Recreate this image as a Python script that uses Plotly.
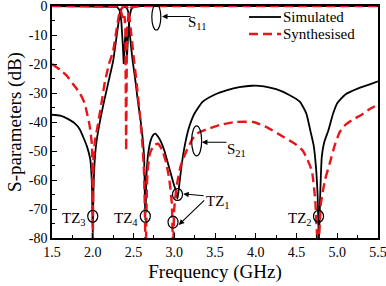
import plotly.graph_objects as go

# ---------------- data ----------------
sim_s21_f = [1.5, 1.6, 1.7, 1.78, 1.84, 1.88, 1.93, 1.97, 1.99, 2.0, 2.01, 2.03, 2.05, 2.09, 2.13,
             2.17, 2.21, 2.25, 2.29, 2.32, 2.345, 2.38, 2.41, 2.435, 2.45, 2.47, 2.49, 2.52, 2.55, 2.58,
             2.61, 2.63, 2.645, 2.66, 2.68, 2.71, 2.74, 2.77, 2.8, 2.84, 2.88, 2.92, 2.96, 3.0, 3.02,
             3.04, 3.06, 3.09, 3.13, 3.18, 3.25, 3.35, 3.5, 3.65, 3.8, 3.95, 4.1, 4.25, 4.4, 4.54,
             4.62, 4.67, 4.71, 4.74, 4.76, 4.775, 4.79, 4.81, 4.84, 4.89, 4.95, 5.0, 5.1, 5.25, 5.4, 5.5]
sim_s21_db = [-37.5, -37.8, -39.0, -40.5, -42.5, -45, -48.5, -53, -62, -78, -62, -51, -46, -39.5, -34,
              -29, -24, -19, -11, -5, -1.2, -0.4, -0.5, -2, -8, -14, -19, -25, -32, -38,
              -45, -52, -74, -58, -51, -46.5, -44.5, -44, -45, -47, -50, -54, -58, -62, -63.5,
              -66.5, -62, -55, -48, -42, -37, -33, -30.5, -29, -28, -27.5, -27.7, -28.7, -30.5, -33,
              -37, -43, -48, -56, -66, -82, -66, -52, -47, -43, -37, -33.5, -30.5, -28.5, -27, -26]

syn_s21_f = [1.5, 1.6, 1.68, 1.76, 1.84, 1.9, 1.93, 1.96, 1.99, 2.0, 2.01, 2.03, 2.05, 2.08, 2.11,
             2.15, 2.2, 2.25, 2.29, 2.32, 2.35, 2.38, 2.41, 2.43, 2.45, 2.47, 2.5, 2.54, 2.58, 2.61,
             2.63, 2.65, 2.67, 2.7, 2.75, 2.8, 2.85, 2.9, 2.94, 2.97, 2.985, 3.0, 3.03, 3.08, 3.15,
             3.22, 3.28, 3.4, 3.56, 3.75, 3.97, 4.15, 4.33, 4.48, 4.58, 4.65, 4.69, 4.73, 4.765, 4.8,
             4.85, 4.91, 4.97, 5.03, 5.1, 5.2, 5.3, 5.4, 5.5]
syn_s21_db = [-20, -22, -24, -27, -30, -33.5, -37, -41, -48, -85, -52, -46, -43, -38, -33,
              -26, -20, -15.5, -8.5, -3.5, -1.0, -0.2, -0.05, -0.8, -4, -9, -17, -27, -38, -48,
              -58, -85, -58, -51, -48, -47.5, -49.5, -54, -60, -68, -85, -70, -62, -55, -50,
              -46, -44, -42.5, -41, -40, -40, -42, -45, -47.5, -50, -54, -57, -67, -85, -68,
              -60, -54, -48, -43.5, -41, -39, -37.5, -35.5, -34]

sim_s11_f = [1.5, 2.2, 2.3, 2.33, 2.35, 2.37, 2.38, 2.39, 2.4, 2.41, 2.42, 2.43, 2.45, 2.47, 2.5, 2.6, 5.5]
sim_s11_db = [0, -0.05, -0.3, -1.5, -5, -14, -20, -14, -10, -11, -18, -12, -4, -1.2, -0.3, -0.05, 0]

syn_s11_f = [1.5, 2.3, 2.34, 2.36, 2.375, 2.39, 2.4, 2.41, 2.42, 2.44, 2.47, 2.55, 5.5]
syn_s11_db = [0, -0.1, -1, -3, -5, -3.5, -8, -50, -8, -2.5, -0.5, -0.05, 0]

x_ticks = [1.5, 2.0, 2.5, 3.0, 3.5, 4.0, 4.5, 5.0, 5.5]
y_ticks = [0, -10, -20, -30, -40, -50, -60, -70, -80]
legend_names = ["Simulated", "Synthesised"]

FONT = "Times New Roman"
BLACK = "#000000"
RED = "#e8161b"
DASH = "9px,5px"

fig = go.Figure()
fig.add_trace(go.Scatter(x=sim_s21_f, y=sim_s21_db, mode="lines", name=legend_names[0],
                         line=dict(color=BLACK, width=1.8, shape="spline", smoothing=0.5)))
fig.add_trace(go.Scatter(x=sim_s11_f, y=sim_s11_db, mode="lines", name=legend_names[0],
                         line=dict(color=BLACK, width=1.8)))
fig.add_trace(go.Scatter(x=syn_s21_f, y=syn_s21_db, mode="lines", name=legend_names[1],
                         line=dict(color=RED, width=2.4, dash=DASH, shape="spline", smoothing=0.5)))
fig.add_trace(go.Scatter(x=syn_s11_f, y=syn_s11_db, mode="lines", name=legend_names[1],
                         line=dict(color=RED, width=2.4, dash=DASH)))

# ellipses / circles marking features (pixel-sized, anchored in data coords)
marks = [  # (freq, dB, rx, ry)
    (2.0, -72.5, 5, 6),
    (2.645, -72.5, 5, 6),
    (3.04, -65.0, 5, 6),
    (2.985, -74.5, 5, 6),
    (4.77, -72.5, 5, 6),
    (2.78, -3.8, 4.5, 13),
    (3.275, -46.5, 5, 15),
]
for f, d, rx, ry in marks:
    fig.add_shape(type="circle", xref="x", yref="y", xsizemode="pixel", ysizemode="pixel",
                  xanchor=f, yanchor=d, x0=-rx, x1=rx, y0=-ry, y1=ry,
                  line=dict(color=BLACK, width=1.2))

ann_font = dict(family=FONT, size=15, color=BLACK)
arrows = [  # head (f, dB), tail offset (ax, ay) px
    (2.85, -3.6, 30, 0),
    (3.34, -47.0, 26, 0),
    (3.11, -64.8, 22, 2),
    (3.055, -75.5, 27, -26),
]
for f, d, ax, ay in arrows:
    fig.add_annotation(x=f, y=d, ax=ax, ay=ay, text="", showarrow=True,
                       arrowhead=2, arrowsize=1, arrowwidth=1.1, arrowcolor=BLACK)

labels = [  # text, f, dB, xanchor
    ("S<sub>11</sub>", 3.14, -6.0, "left"),
    ("S<sub>21</sub>", 3.62, -49.5, "left"),
    ("TZ<sub>1</sub>", 3.37, -67.5, "left"),
    ("TZ<sub>3</sub>", 1.945, -73.5, "right"),
    ("TZ<sub>4</sub>", 2.585, -73.5, "right"),
    ("TZ<sub>2</sub>", 4.71, -73.5, "right"),
]
for t, f, d, xa in labels:
    fig.add_annotation(x=f, y=d, text=t, showarrow=False, xanchor=xa, yanchor="middle",
                       font=ann_font)

# manual legend (top right), in paper coords of the plot area
L, T, PW, PH = 52, 6, 326, 232
def px(xp):
    return (xp - L) / PW
def py(yp):
    return (T + PH - yp) / PH
leg = [(legend_names[0], 17, dict(color=BLACK, width=1.8)),
       (legend_names[1], 34, dict(color=RED, width=2.4, dash=DASH))]
for name, yy, ln in leg:
    fig.add_shape(type="line", xref="paper", yref="paper", x0=px(249), x1=px(281),
                  y0=py(yy), y1=py(yy), line=ln)
    fig.add_annotation(xref="paper", yref="paper", x=px(281), y=py(yy), text=name,
                       showarrow=False, xanchor="left", yanchor="middle",
                       font=dict(family=FONT, size=15, color=BLACK))

axis_common = dict(showline=True, linecolor=BLACK, linewidth=1.5, mirror=True,
                   ticks="inside", ticklen=5, tickwidth=1.2, tickcolor=BLACK,
                   showgrid=False, zeroline=False, ticklabeloverflow="allow",
                   automargin=False,
                   tickfont=dict(family=FONT, size=14, color=BLACK),
                   title_font=dict(family=FONT, size=19, color=BLACK))

fig.update_xaxes(range=[1.5, 5.5], tickvals=x_ticks, ticktext=[f"{v:.1f}" for v in x_ticks],
                 minor=dict(ticks="inside", ticklen=3, dtick=0.25, tickcolor=BLACK, tickwidth=1),
                 title_text="Frequency (GHz)", title_standoff=6, **axis_common)
fig.update_yaxes(range=[-80, 0], tickvals=y_ticks, ticktext=[str(v) for v in y_ticks],
                 minor=dict(ticks="inside", ticklen=3, dtick=5, tickcolor=BLACK, tickwidth=1),
                 title_text="S-parameters (dB)", title_standoff=2, **axis_common)

fig.update_layout(
    width=386, height=286,
    margin=dict(l=52, r=8, t=6, b=48),
    plot_bgcolor="white", paper_bgcolor="white",
    font=dict(family=FONT, color=BLACK),
    showlegend=False,
)

fig.write_html("out.html")
